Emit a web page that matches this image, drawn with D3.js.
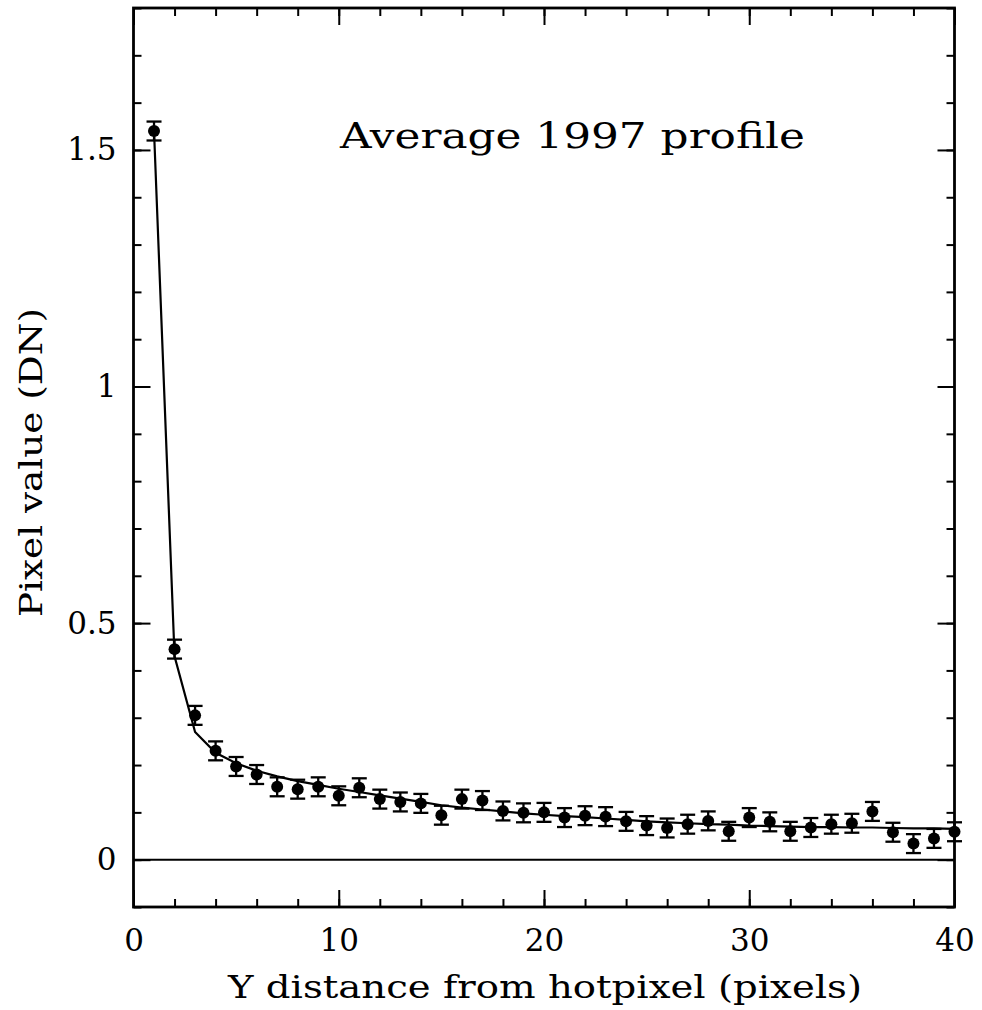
<!DOCTYPE html>
<html>
<head>
<meta charset="utf-8">
<script src="https://cdn.jsdelivr.net/npm/d3@7/dist/d3.min.js"></script>
<style>
  html, body { margin: 0; padding: 0; background: #fff; }
  svg { display: block; }
  text { font-family: "DejaVu Serif", "Liberation Serif", serif; fill: #000; }
</style>
</head>
<body>
<svg id="chart" width="982" height="1010"></svg>
<script>
// ---- data ----
const distances = d3.range(1, 41);
const pixelValues = [
  1.540, 0.445, 0.305, 0.230, 0.197, 0.180, 0.154, 0.149, 0.154, 0.135,
  0.152, 0.128, 0.122, 0.119, 0.094, 0.128, 0.125, 0.103, 0.099, 0.100,
  0.089, 0.093, 0.091, 0.081, 0.072, 0.067, 0.075, 0.082, 0.060, 0.089,
  0.080, 0.060, 0.068, 0.075, 0.077, 0.102, 0.058, 0.034, 0.045, 0.059
];
const pixelErrors = [
  0.020, 0.020, 0.020, 0.020, 0.020, 0.020, 0.020, 0.020, 0.020, 0.020,
  0.020, 0.020, 0.020, 0.020, 0.020, 0.020, 0.020, 0.020, 0.020, 0.020,
  0.020, 0.020, 0.020, 0.020, 0.020, 0.020, 0.020, 0.020, 0.020, 0.020,
  0.020, 0.020, 0.020, 0.020, 0.020, 0.020, 0.020, 0.020, 0.020, 0.020
];
const modelValues = [
  1.540, 0.430, 0.270, 0.226, 0.204, 0.188, 0.176, 0.166, 0.158, 0.150,
  0.143, 0.136, 0.129, 0.122, 0.115, 0.110, 0.106, 0.102, 0.098, 0.095,
  0.092, 0.090, 0.087, 0.084, 0.081, 0.079, 0.077, 0.075, 0.074, 0.072,
  0.071, 0.070, 0.069, 0.069, 0.068, 0.068, 0.067, 0.066, 0.066, 0.065
];
const xMajorTicks = [0, 10, 20, 30, 40];
const xMinorTicks = d3.range(0, 41, 2);
const yMajorTicks = [0, 0.5, 1, 1.5];
const yMinorTicks = d3.range(-0.1, 1.81, 0.1).map(v => +v.toFixed(2));
const titleText = "Average 1997 profile";
const xLabel = "Y distance from hotpixel (pixels)";
const yLabel = "Pixel value (DN)";

// ---- layout ----
const L = 133.5, R = 954.5, T = 8, B = 907;
const x = d3.scaleLinear().domain([0, 40]).range([L, R]);
const y = d3.scaleLinear().domain([-0.1, 1.8]).range([B, T]);

const svg = d3.select("#chart");

// ticks on all four sides, pointing inward
function styleAxis(g) {
  g.select(".domain").remove();
  g.selectAll(".tick line").attr("stroke", "#000").attr("stroke-width", 2);
  g.selectAll(".tick text").attr("font-family", "DejaVu Serif").attr("font-size", 31).attr("fill", "#000");
}
// bottom
svg.append("g").attr("transform", `translate(0,${B})`)
  .call(d3.axisBottom(x).tickValues(xMinorTicks).tickSize(-8).tickFormat(""))
  .call(styleAxis);
svg.append("g").attr("transform", `translate(0,${B})`)
  .call(d3.axisBottom(x).tickValues(xMajorTicks).tickSize(-17).tickPadding(22).tickFormat(d3.format("d")))
  .call(styleAxis);
// top
svg.append("g").attr("transform", `translate(0,${T})`)
  .call(d3.axisTop(x).tickValues(xMinorTicks).tickSize(-8).tickFormat(""))
  .call(styleAxis);
svg.append("g").attr("transform", `translate(0,${T})`)
  .call(d3.axisTop(x).tickValues(xMajorTicks).tickSize(-17).tickFormat(""))
  .call(styleAxis);
// left
svg.append("g").attr("transform", `translate(${L},0)`)
  .call(d3.axisLeft(y).tickValues(yMinorTicks).tickSize(-8).tickFormat(""))
  .call(styleAxis);
svg.append("g").attr("transform", `translate(${L},0)`)
  .call(d3.axisLeft(y).tickValues(yMajorTicks).tickSize(-17).tickPadding(17).tickFormat(d3.format("~g")))
  .call(styleAxis);
// right
svg.append("g").attr("transform", `translate(${R},0)`)
  .call(d3.axisRight(y).tickValues(yMinorTicks).tickSize(-8).tickFormat(""))
  .call(styleAxis);
svg.append("g").attr("transform", `translate(${R},0)`)
  .call(d3.axisRight(y).tickValues(yMajorTicks).tickSize(-17).tickFormat(""))
  .call(styleAxis);

// frame
svg.append("rect")
  .attr("x", L).attr("y", T).attr("width", R - L).attr("height", B - T)
  .attr("fill", "none").attr("stroke", "#000").attr("stroke-width", 2.8);

// zero line
svg.append("line")
  .attr("x1", L).attr("x2", R).attr("y1", y(0)).attr("y2", y(0))
  .attr("stroke", "#000").attr("stroke-width", 2);

// model line
const modelData = distances.map((d, i) => ({ d, v: modelValues[i] }));
svg.append("path")
  .datum(modelData)
  .attr("fill", "none").attr("stroke", "#000").attr("stroke-width", 2.2)
  .attr("d", d3.line().x(p => x(p.d)).y(p => y(p.v)));

// data points with error bars
const pts = distances.map((d, i) => ({ d, v: pixelValues[i], e: pixelErrors[i] }));
const capW = 7.5;
const eg = svg.append("g").attr("stroke", "#000").attr("stroke-width", 2.3);
eg.selectAll("line.v").data(pts).enter().append("line")
  .attr("x1", p => x(p.d)).attr("x2", p => x(p.d))
  .attr("y1", p => y(p.v + p.e)).attr("y2", p => y(p.v - p.e));
eg.selectAll("line.t").data(pts).enter().append("line")
  .attr("x1", p => x(p.d) - capW).attr("x2", p => x(p.d) + capW)
  .attr("y1", p => y(p.v + p.e)).attr("y2", p => y(p.v + p.e));
eg.selectAll("line.b").data(pts).enter().append("line")
  .attr("x1", p => x(p.d) - capW).attr("x2", p => x(p.d) + capW)
  .attr("y1", p => y(p.v - p.e)).attr("y2", p => y(p.v - p.e));
svg.append("g").selectAll("circle").data(pts).enter().append("circle")
  .attr("cx", p => x(p.d)).attr("cy", p => y(p.v)).attr("r", 6).attr("fill", "#000");

// title
svg.append("text")
  .attr("x", 340).attr("y", 148)
  .attr("font-size", 36)
  .attr("textLength", 465).attr("lengthAdjust", "spacingAndGlyphs")
  .text(titleText);

// axis labels
svg.append("text")
  .attr("x", 228).attr("y", 998)
  .attr("font-size", 32)
  .attr("textLength", 634).attr("lengthAdjust", "spacingAndGlyphs")
  .text(xLabel);

svg.append("text")
  .attr("transform", "translate(42,617) rotate(-90)")
  .attr("x", 0).attr("y", 0)
  .attr("font-size", 32)
  .attr("textLength", 309).attr("lengthAdjust", "spacingAndGlyphs")
  .text(yLabel);
</script>
</body>
</html>
